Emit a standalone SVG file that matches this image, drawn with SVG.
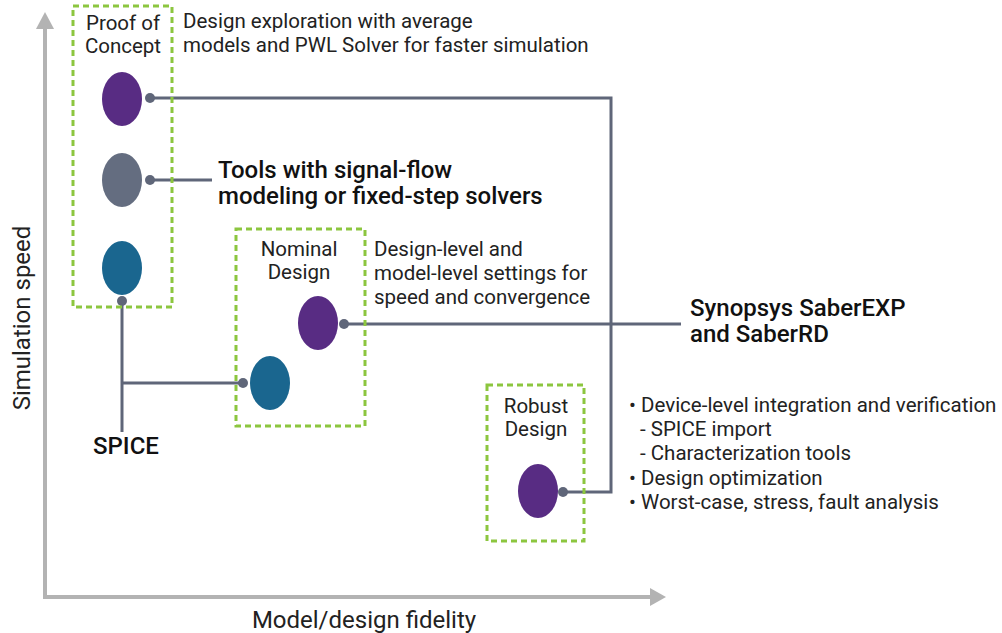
<svg xmlns="http://www.w3.org/2000/svg" width="1002" height="633" viewBox="0 0 1002 633">
<style>
text{font-family:Roboto,"Liberation Sans",sans-serif;fill:#222}
.t{font-size:20.5px}
.c{text-anchor:middle}
.b{font-size:24px;font-weight:500;fill:#111}
.box{fill:none;stroke:#8cc63f;stroke-width:3;stroke-dasharray:6 4}
.ax{stroke:#b3b3b3;stroke-width:4;fill:none}
.cn{stroke:#5f6679;stroke-width:3;fill:none}
.dot{fill:#5f6679}
.pu{fill:#582c83}
.gr{fill:#646d80}
.te{fill:#1a668f}
</style>
<g id="axes">
<polyline class="ax" points="45,26 45,597 652,597"/>
<polygon points="36,29 45,12 54,29" fill="#b3b3b3"/>
<polygon points="650,588 666,597 650,606" fill="#b3b3b3"/>
<text x="364" y="628" style="font-size:24px" text-anchor="middle">Model/design fidelity</text>
<text x="30" y="318" style="font-size:24px" text-anchor="middle" transform="rotate(-90 30 318)">Simulation speed</text>
</g>
<g id="connectors">
<polyline class="cn" points="150,98 611,98 611,492 563,492"/>
<line class="cn" x1="150" y1="180" x2="212" y2="180"/>
<line class="cn" x1="344" y1="324" x2="681" y2="324"/>
<polyline class="cn" points="122,301 122,432"/>
<line class="cn" x1="122" y1="383" x2="243" y2="383"/>
<circle class="dot" cx="150" cy="98" r="5"/>
<circle class="dot" cx="150" cy="180" r="5"/>
<circle class="dot" cx="122" cy="301" r="5"/>
<circle class="dot" cx="344" cy="324" r="5"/>
<circle class="dot" cx="243" cy="383" r="5"/>
<circle class="dot" cx="563" cy="492" r="5"/>
</g>
<g id="proof-of-concept">
<rect class="box" x="73" y="6" width="99" height="301"/>
<text class="t c" x="123" y="30">Proof of<tspan x="123" dy="23">Concept</tspan></text>
<ellipse class="pu" cx="122" cy="99" rx="20" ry="27"/>
<ellipse class="gr" cx="122" cy="180" rx="20" ry="27"/>
<ellipse class="te" cx="122" cy="268" rx="20" ry="27"/>
</g>
<g id="poc-desc">
<text class="t" x="183" y="28">Design exploration with average<tspan x="183" dy="24">models and PWL Solver for faster simulation</tspan></text>
</g>
<g id="tools">
<text class="b" x="218" y="178">Tools with signal-flow<tspan x="218" dy="25.5">modeling or fixed-step solvers</tspan></text>
</g>
<g id="nominal-design">
<rect class="box" x="236" y="229" width="129" height="197"/>
<text class="t c" x="299" y="256">Nominal<tspan x="299" dy="23">Design</tspan></text>
<ellipse class="pu" cx="318" cy="323" rx="20" ry="27"/>
<ellipse class="te" cx="270" cy="383" rx="20" ry="27"/>
</g>
<g id="nominal-desc">
<text class="t" x="374" y="256">Design-level and<tspan x="374" dy="24">model-level settings for</tspan><tspan x="374" dy="24">speed and convergence</tspan></text>
</g>
<g id="saber">
<text class="b" x="690" y="316">Synopsys SaberEXP<tspan x="690" dy="25.5">and SaberRD</tspan></text>
</g>
<g id="spice">
<text class="b" x="93" y="454">SPICE</text>
</g>
<g id="robust-design">
<rect class="box" x="487" y="385" width="97" height="156"/>
<text class="t c" x="536" y="413">Robust<tspan x="536" dy="23">Design</tspan></text>
<ellipse class="pu" cx="538" cy="491" rx="20" ry="27"/>
</g>
<g id="robust-desc">
<text class="t" x="629" y="412">• Device-level integration and verification<tspan x="640" dy="24">- SPICE import</tspan><tspan x="640" dy="24">- Characterization tools</tspan><tspan x="629" dy="25">• Design optimization</tspan><tspan x="629" dy="24">• Worst-case, stress, fault analysis</tspan></text>
</g>
</svg>
